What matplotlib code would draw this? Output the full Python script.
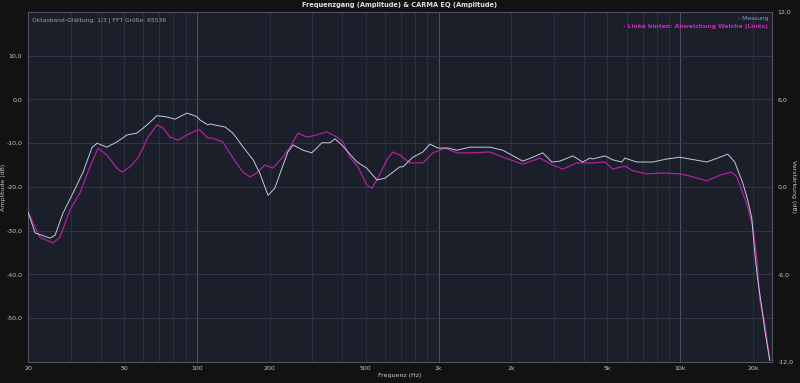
import numpy as np
import matplotlib
matplotlib.use("Agg")
import matplotlib.pyplot as plt
from matplotlib.ticker import FixedLocator, FuncFormatter, NullFormatter

# Messung (Hz, dB)
mess_freq = [20, 21.4, 24.7, 25.9, 27.9, 30.7, 33.8, 36.8, 38.6, 42.4, 46.7, 51.4,
             56.5, 62.2, 68.4, 75.2, 81.2, 91.0, 100, 103, 111, 113, 131, 141, 155,
             171, 182, 197, 210, 225, 238, 250, 275, 299, 329, 355, 373, 398, 422,
             460, 505, 556, 600, 641, 692, 712, 783, 862, 921, 994, 1094, 1191, 1349,
             1631, 1846, 2233, 2456, 2701, 2944, 3177, 3595, 3955, 4229, 4350, 4880,
             5266, 5737, 5904, 6618, 7707, 8808, 9974, 10965, 12894, 14592, 15747,
             16830, 18165, 19050, 19790, 20370, 20960, 21770, 22400, 23500]
mess_db = [-25.7, -30.5, -31.7, -31.0, -26.0, -21.4, -16.6, -11.0, -10.0, -10.9, -9.7,
           -8.1, -7.7, -5.8, -3.7, -4.0, -4.5, -3.1, -3.9, -4.7, -5.8, -5.6, -6.3, -7.7,
           -10.8, -13.8, -16.8, -21.9, -20.3, -15.7, -12.0, -10.4, -11.6, -12.2, -9.9,
           -9.9, -9.0, -10.4, -12.0, -14.3, -15.7, -18.4, -18.0, -16.8, -15.4, -15.4,
           -13.2, -12.0, -10.2, -11.1, -11.1, -11.6, -10.9, -10.9, -11.6, -14.1, -13.2,
           -12.2, -14.3, -14.1, -12.9, -14.3, -13.4, -13.6, -12.9, -13.8, -14.3, -13.4,
           -14.3, -14.3, -13.6, -13.2, -13.6, -14.3, -13.2, -12.5, -14.3, -19.1, -23.0,
           -27.1, -35.1, -41.3, -47.5, -52.7, -59.6]

# Linke hinten: Abweichung Weiche (Links)
weiche_freq = [20, 22.4, 25.4, 27.1, 29.8, 32.8, 36.1, 39.0, 42.4, 46.7, 49.0, 52.8,
               57.0, 62.8, 68.4, 72.4, 77.4, 83.5, 91.0, 100, 103, 111, 115, 128, 141,
               155, 166, 177, 191, 206, 225, 243, 262, 285, 314, 345, 380, 402, 430,
               464, 505, 530, 561, 611, 647, 692, 761, 862, 948, 1063, 1191, 1387, 1631,
               1846, 2233, 2626, 2973, 3270, 3735, 3843, 4350, 4880, 5266, 5904, 6371,
               7279, 8478, 9974, 10965, 12894, 14592, 16357, 17155, 18165, 19050, 19980,
               20760, 21360, 22400, 23500]
weiche_db = [-25.7, -31.5, -32.8, -31.5, -25.3, -21.4, -15.4, -11.1, -12.7, -15.7, -16.6,
             -15.4, -13.4, -8.6, -5.8, -6.5, -8.6, -9.3, -8.1, -7.0, -7.0, -8.8, -8.8,
             -9.7, -13.4, -16.6, -17.7, -16.8, -15.0, -15.7, -13.4, -10.9, -7.7, -8.6,
             -8.1, -7.4, -8.6, -9.7, -13.2, -15.4, -19.6, -20.3, -18.0, -13.8, -12.0,
             -12.7, -14.5, -14.5, -12.2, -11.1, -12.2, -12.2, -12.0, -13.2, -14.8, -13.4,
             -15.0, -15.9, -14.5, -14.5, -14.5, -14.3, -15.9, -15.2, -16.3, -17.0, -16.8,
             -17.0, -17.5, -18.6, -17.3, -16.6, -17.7, -21.4, -24.6, -29.2, -36.0, -45.9,
             -51.1, -59.6]

x_ticks = [20, 50, 100, 200, 500, 1000, 2000, 5000, 10000, 20000]
x_tick_labels = ["20", "50", "100", "200", "500", "1k", "2k", "5k", "10k", "20k"]
left_ticks = [10, 0, -10, -20, -30, -40, -50]
right_ticks = [12, 6, 0, -6, -12]

fig_bg = "#121212"
ax_bg = "#1b1f2a"
txt = "#c8c8c8"

fig = plt.figure(figsize=(8, 3.83), dpi=100, facecolor=fig_bg)
ax = fig.add_axes([0.035, 0.0548, 0.93, 0.914])
ax.set_facecolor(ax_bg)
ax.set_xscale("log")
ax.set_xlim(20, 24000)
ax.set_ylim(-60, 20)

# grid
minor = [m * d for d in (10, 100, 1000, 10000) for m in range(2, 10) if 20 <= m * d <= 24000]
for f in minor:
    ax.axvline(f, color="#2d3342", lw=0.6, zorder=0)
for f in (100, 1000, 10000):
    ax.axvline(f, color="#4a5160", lw=0.7, zorder=0)
for y in range(-50, 20, 10):
    ax.axhline(y, color="#333a48", lw=0.6, zorder=0)

ax.plot(weiche_freq, weiche_db, color="#b21fa0", lw=0.9, zorder=2)
ax.plot(mess_freq, mess_db, color="#c4c9dc", lw=0.7, zorder=3)

ax.xaxis.set_major_locator(FixedLocator(x_ticks))
ax.xaxis.set_major_formatter(FuncFormatter(lambda v, p: x_tick_labels[x_ticks.index(v)] if v in x_ticks else ""))
ax.xaxis.set_minor_formatter(NullFormatter())
ax.yaxis.set_major_locator(FixedLocator(left_ticks))
ax.yaxis.set_major_formatter(FuncFormatter(lambda v, p: f"{v:.1f}".replace(".", ",")))
ax.tick_params(axis="both", which="both", length=0, labelsize=4.5, colors=txt, pad=4)
ax.tick_params(axis="x", pad=3)
for s in ax.spines.values():
    s.set_color("#505560")
    s.set_linewidth(0.8)

ax2 = ax.twinx()
ax2.set_ylim(-12, 12)
ax2.yaxis.set_major_locator(FixedLocator(right_ticks))
ax2.yaxis.set_major_formatter(FuncFormatter(lambda v, p: f"{v:.1f}".replace(".", ",")))
ax2.tick_params(axis="y", length=0, labelsize=4.5, colors=txt, pad=4)
for s in ax2.spines.values():
    s.set_visible(False)

ax.set_xlabel("Frequenz (Hz)", fontsize=4.5, color=txt, labelpad=1)
ax.set_ylabel("Amplitude (dB)", fontsize=4.5, color=txt)
ax.yaxis.set_label_coords(-0.029, 0.5)
ax2.set_ylabel("Verstärkung (dB)", fontsize=4.5, color=txt, rotation=270, va="center")
ax2.yaxis.set_label_coords(1.029, 0.5)

fig.text(0.5, 0.988, "Frequenzgang (Amplitude) & CARMA EQ (Amplitude)", ha="center", va="center",
         fontsize=4.8, color="#e0e0e0", fontweight="bold")
ax.text(0.006, 0.985, "Oktavband-Glättung: 1/3 | FFT Größe: 65536", transform=ax.transAxes,
        ha="left", va="top", fontsize=4.3, color="#a0a0a8")
ax.text(0.995, 0.988, "- Messung", transform=ax.transAxes, ha="right", va="top",
        fontsize=4.3, color="#8e9bc8")
ax.text(0.995, 0.966, "- Linke hinten: Abweichung Weiche (Links)", transform=ax.transAxes,
        ha="right", va="top", fontsize=4.3, color="#d223c0", fontweight="bold")

fig.savefig("out.png", dpi=100, facecolor=fig_bg)
